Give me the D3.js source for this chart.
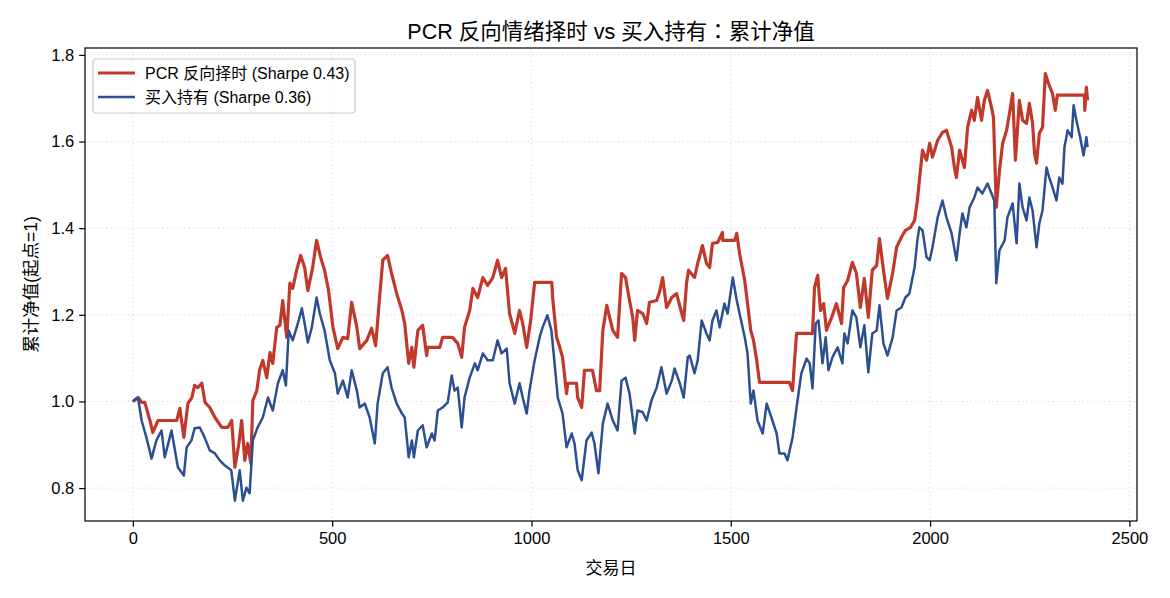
<!DOCTYPE html>
<html>
<head>
<meta charset="utf-8">
<script src="https://cdn.jsdelivr.net/npm/d3@7"></script>
<style>
  body { margin: 0; background: #fff; }
  text { font-family: "Liberation Sans", Arial, "Noto Sans CJK SC", sans-serif; }
</style>
</head>
<body>
<script>
// PCR 反向择时 净值 (day, nav)
var pcrDays = [0,13,22,30,43,50,63,110,118,128,138,148,155,163,173,181,193,206,223,238,248,256,266,273,281,288,296,301,311,
  318,326,336,344,351,361,369,376,386,394,401,411,421,431,439,451,461,471,481,491,502,514,527,539,549,562,569,587,599,609,619,627,639,649,662,675,682,692,
  700,705,715,727,737,740,770,777,802,815,825,832,845,853,865,878,890,903,915,925,935,945,958,970,978,988,998,1008,1051,1053,1063,1071,1078,1088,1091,1113,1116,1126,1133,1153,1163,1171,
  1179,1189,1196,1204,1216,1226,1236,1246,1254,1259,1266,1279,1289,1296,1314,1321,1329,1339,1352,1364,1377,1382,1389,1394,1409,1417,1429,1439,1447,1454,1467,1479,1480,1510,
  1515,1522,1535,1542,1550,1557,1565,1572,1647,1655,1660,1665,1705,1710,1718,1725,1733,1740,1753,1765,1778,1783,1793,1805,1815,1825,1835,1845,1855,1866,1873,1883,1893,1906,1916,1928,1938,1951,1961,1968,
  1973,1981,1991,1999,2006,2019,2031,2041,2054,2061,2066,2074,2086,2094,2104,2111,2119,2129,2136,2144,2154,2159,2166,2174,2182,2192,2199,2207,2214,2224,2232,2242,2249,2257,2262,2267,2274,2282,2289,2297,2307,2314,2319,2387,2388,2392,2395];
var pcrNav = [1.000,1.009,0.998,0.998,0.956,0.928,0.956,0.956,0.984,0.917,0.995,1.009,1.037,1.032,1.042,0.998,0.986,0.963,0.940,0.940,0.956,0.848,0.903,0.956,0.864,0.903,0.857,1.002,1.025,
  1.072,1.095,1.055,1.113,1.088,1.171,1.176,1.233,1.148,1.273,1.261,1.303,1.337,1.309,1.256,1.309,1.372,1.333,1.303,1.256,1.171,1.122,1.148,1.145,1.229,1.171,1.122,1.141,1.169,1.129,1.240,1.326,1.337,1.296,1.249,1.210,1.180,1.088,
  1.125,1.079,1.164,1.176,1.106,1.125,1.125,1.148,1.148,1.134,1.102,1.171,1.210,1.261,1.240,1.286,1.268,1.286,1.326,1.286,1.307,1.203,1.157,1.210,1.180,1.125,1.187,1.275,1.275,1.240,1.148,1.125,1.102,1.018,1.042,1.042,1.009,0.986,1.072,1.072,1.025,1.025,
  1.164,1.222,1.194,1.164,1.148,1.296,1.286,1.233,1.194,1.141,1.210,1.203,1.180,1.229,1.233,1.252,1.286,1.217,1.240,1.249,1.203,1.187,1.273,1.303,1.286,1.319,1.360,1.319,1.309,1.365,1.367,1.390,1.372,1.372,
  1.388,1.342,1.279,1.226,1.164,1.141,1.095,1.044,1.044,1.025,1.095,1.157,1.157,1.263,1.291,1.210,1.226,1.164,1.194,1.226,1.180,1.263,1.279,1.321,1.296,1.217,1.284,1.194,1.303,1.314,1.376,1.303,1.238,1.296,1.356,1.379,1.395,1.402,1.418,1.464,
  1.510,1.580,1.557,1.596,1.564,1.603,1.621,1.626,1.587,1.540,1.517,1.580,1.540,1.633,1.672,1.649,1.702,1.649,1.695,1.718,1.679,1.656,1.448,1.533,1.596,1.626,1.665,1.711,1.557,1.695,1.649,1.642,1.688,1.642,1.573,1.550,1.619,1.633,1.757,1.734,1.711,1.672,1.707,1.707,1.672,1.725,1.695];

// 买入持有 净值 (day, nav)
var bhDays = [0,13,22,34,47,59,72,80,97,113,128,135,147,155,168,180,193,206,218,231,247,256,268,276,285,293,301,313,326,339,
  351,364,376,384,391,401,414,424,431,439,449,461,469,481,494,507,514,527,539,549,562,569,582,594,607,614,627,639,649,662,675,682,692,
  700,705,715,727,737,750,757,765,777,790,800,807,815,825,832,845,858,865,878,890,903,915,925,938,945,958,970,978,988,995,1008,1021,1028,1040,1050,
  1058,1066,1078,1088,1101,1108,1116,1126,1138,1151,1158,1168,1179,1191,1204,1216,1226,1236,1246,1259,1266,1279,1289,1301,1314,1326,1339,1352,1359,1372,1382,1392,
  1397,1409,1417,1427,1439,1447,1454,1464,1472,1484,1492,1505,1515,1522,1535,1542,1550,1557,1567,1580,1590,1602,1615,1622,1635,1642,1655,1665,1677,1690,1698,
  1705,1713,1720,1730,1738,1745,1755,1768,1780,1785,1793,1805,1815,1825,1835,1845,1855,1866,1873,1883,1893,1906,1916,1928,1938,1948,1961,1968,
  1973,1981,1991,1999,2006,2019,2031,2041,2054,2066,2074,2081,2091,2099,2111,2119,2131,2144,2154,2161,2166,2174,2187,2194,2207,2217,2224,
  2232,2242,2249,2257,2267,2274,2282,2292,2299,2307,2317,2324,2332,2337,2345,2355,2360,2367,2377,2385,2392,2395];
var bhNav = [1.000,1.009,0.956,0.917,0.868,0.910,0.933,0.871,0.933,0.848,0.829,0.894,0.910,0.938,0.940,0.917,0.887,0.880,0.864,0.852,0.841,0.771,0.841,0.771,0.801,0.788,0.910,0.940,0.963,1.009,
  0.979,1.042,1.072,1.037,1.164,1.141,1.180,1.215,1.180,1.136,1.171,1.240,1.203,1.164,1.095,1.065,1.018,1.048,1.009,1.072,1.025,0.986,0.995,0.963,0.903,0.995,1.065,1.079,1.032,0.995,0.972,0.963,0.871,
  0.910,0.871,0.933,0.945,0.894,0.926,0.910,0.979,0.986,0.998,1.060,1.025,1.032,0.940,1.009,1.055,1.088,1.072,1.111,1.095,1.095,1.141,1.111,1.122,1.042,0.995,1.042,1.009,0.972,1.025,1.095,1.150,1.171,1.199,1.164,
  1.088,1.009,0.972,0.894,0.926,0.903,0.841,0.818,0.910,0.928,0.903,0.834,0.949,0.995,0.956,0.933,1.048,1.055,1.018,0.926,0.979,0.975,0.956,1.002,1.032,1.079,1.018,1.048,1.076,1.042,1.009,1.102,
  1.106,1.065,1.095,1.187,1.157,1.141,1.187,1.210,1.171,1.226,1.203,1.286,1.233,1.203,1.148,1.111,0.995,1.025,0.956,0.926,0.995,0.963,0.926,0.880,0.880,0.864,0.917,0.986,1.065,1.099,1.088,
  1.030,1.180,1.187,1.088,1.148,1.072,1.102,1.125,1.088,1.157,1.134,1.210,1.194,1.125,1.176,1.067,1.157,1.164,1.222,1.134,1.106,1.148,1.210,1.217,1.240,1.249,1.309,1.372,
  1.402,1.395,1.333,1.326,1.356,1.425,1.464,1.425,1.388,1.326,1.388,1.434,1.402,1.448,1.471,1.494,1.480,1.503,1.480,1.464,1.273,1.349,1.372,1.425,1.457,1.365,1.503,
  1.448,1.418,1.471,1.441,1.356,1.411,1.441,1.540,1.517,1.494,1.464,1.517,1.503,1.587,1.626,1.610,1.684,1.649,1.607,1.568,1.610,1.587];

var xTicks = [0, 500, 1000, 1500, 2000, 2500];
var yTicks = [0.8, 1.0, 1.2, 1.4, 1.6, 1.8];
var seriesNames = ["PCR 反向择时 (Sharpe 0.43)", "买入持有 (Sharpe 0.36)"];
var seriesColors = ["#c0392b", "#2c4f91"];

var W = 1170, H = 598;
var margin = {left: 85, right: 33, top: 48, bottom: 77};
var iw = W - margin.left - margin.right, ih = H - margin.top - margin.bottom;

var svg = d3.select("body").append("svg")
  .attr("width", W).attr("height", H);

var x = d3.scaleLinear().domain([-120, 2519]).range([0, iw]);
var y = d3.scaleLinear().domain([0.724, 1.816]).range([ih, 0]);

var g = svg.append("g").attr("transform", "translate(" + margin.left + "," + margin.top + ")");

// grid
g.append("g").selectAll("line").data(xTicks).enter().append("line")
  .attr("x1", d => x(d)).attr("x2", d => x(d)).attr("y1", 0).attr("y2", ih)
  .attr("stroke", "#b0b0b0").attr("stroke-opacity", 0.45).attr("stroke-width", 1).attr("stroke-dasharray", "1.3,3");
g.append("g").selectAll("line").data(yTicks).enter().append("line")
  .attr("y1", d => y(d)).attr("y2", d => y(d)).attr("x1", 0).attr("x2", iw)
  .attr("stroke", "#b0b0b0").attr("stroke-opacity", 0.45).attr("stroke-width", 1).attr("stroke-dasharray", "1.3,3");

var line = d3.line().x(d => x(d[0])).y(d => y(d[1]));

var bh = bhDays.map((d, i) => [d, bhNav[i]]);
var pcr = pcrDays.map((d, i) => [d, pcrNav[i]]);

g.append("path").datum(pcr).attr("d", line)
  .attr("fill", "none").attr("stroke", seriesColors[0]).attr("stroke-width", 3.2)
  .attr("stroke-linejoin", "round");
g.append("path").datum(bh).attr("d", line)
  .attr("fill", "none").attr("stroke", seriesColors[1]).attr("stroke-width", 2.5)
  .attr("stroke-linejoin", "round");

// axes
var xAxis = g.append("g").attr("transform", "translate(0," + ih + ")")
  .call(d3.axisBottom(x).tickValues(xTicks).tickSize(5.8).tickPadding(5).tickFormat(d3.format("d")));
var yAxis = g.append("g")
  .call(d3.axisLeft(y).tickValues(yTicks).tickSize(5.8).tickPadding(5).tickFormat(d3.format(".1f")));
[xAxis, yAxis].forEach(function(a) {
  a.select(".domain").remove();
  a.selectAll("line").attr("stroke", "#000").attr("stroke-width", 1.2);
  a.selectAll("text").attr("font-size", 16.5).attr("fill", "#000")
    .style("font-family", '"Liberation Sans", Arial, sans-serif');
});

g.append("rect").attr("width", iw).attr("height", ih)
  .attr("fill", "none").attr("stroke", "#000").attr("stroke-width", 1.2);

// titles
var title = svg.append("text").attr("x", margin.left + iw / 2).attr("y", 39)
  .attr("text-anchor", "middle").attr("font-size", 21.5);
title.append("tspan").text("PCR 反向情绪择时 vs 买入持有");
title.append("tspan").style("font-family", '"Noto Sans CJK JP"').text("：");
title.append("tspan").text("累计净值");

svg.append("text").attr("x", margin.left + iw / 2).attr("y", 574)
  .attr("text-anchor", "middle").attr("font-size", 17).text("交易日");
svg.append("text").attr("transform", "translate(37," + (margin.top + ih / 2) + ") rotate(-90)")
  .attr("text-anchor", "middle").attr("font-size", 17.5).text("累计净值(起点=1)");

// legend
var lg = svg.append("g").attr("transform", "translate(93,59)");
lg.append("rect").attr("width", 262).attr("height", 54).attr("rx", 3)
  .attr("fill", "#fff").attr("fill-opacity", 0.8).attr("stroke", "#cccccc").attr("stroke-width", 1.2);
seriesNames.forEach(function(name, i) {
  var yy = 14 + i * 24;
  lg.append("line").attr("x1", 5).attr("x2", 42).attr("y1", yy).attr("y2", yy)
    .attr("stroke", seriesColors[i]).attr("stroke-width", i === 0 ? 3.2 : 2.5);
  lg.append("text").attr("x", 52).attr("y", yy + 5.5).attr("font-size", 16).text(name);
});
</script>
</body>
</html>
